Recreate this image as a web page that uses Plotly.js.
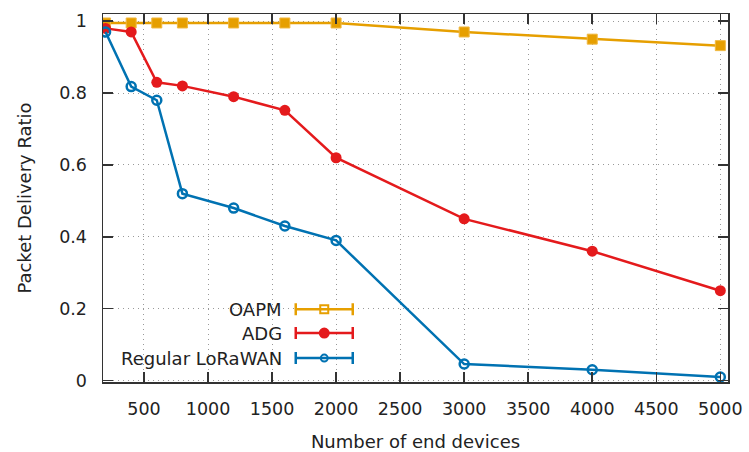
<!DOCTYPE html>
<html>
<head>
<meta charset="utf-8">
<script src="https://cdn.plot.ly/plotly-3.0.1.min.js"></script>
<style>html,body{margin:0;padding:0;background:#fff;}#chart{width:749px;height:452px;}</style>
</head>
<body>
<div id="chart"></div>
<script>
const devices = [200, 400, 600, 800, 1200, 1600, 2000, 3000, 4000, 5000];
const oapm = [0.995, 0.995, 0.995, 0.995, 0.995, 0.995, 0.995, 0.97, 0.95, 0.932];
const adg = [0.98, 0.97, 0.83, 0.82, 0.79, 0.752, 0.62, 0.45, 0.36, 0.25];
const regular = [0.97, 0.818, 0.78, 0.52, 0.48, 0.43, 0.39, 0.046, 0.03, 0.01];
const seriesNames = ["OAPM", "ADG", "Regular LoRaWAN"];
const xTicks = [500, 1000, 1500, 2000, 2500, 3000, 3500, 4000, 4500, 5000];
const yTicks = [0, 0.2, 0.4, 0.6, 0.8, 1];

const cOrange = "#E69F00", cRed = "#E41A1C", cBlue = "#0072B2";
const font = "DejaVu Sans, sans-serif";

const traces = [
  {x: devices, y: oapm, mode: "lines+markers", line: {color: cOrange, width: 2.5},
   marker: {symbol: "square", size: 10, color: cOrange, line: {color: "#F0B840", width: 1}}},
  {x: devices, y: adg, mode: "lines+markers", line: {color: cRed, width: 2.5},
   marker: {symbol: "circle", size: 11, color: cRed}},
  {x: devices, y: regular, mode: "lines+markers", line: {color: cBlue, width: 2.5},
   marker: {symbol: "circle-open", size: 9, color: cBlue, line: {width: 2.5}}}
];

// legend samples on hidden overlay axes (0..1)
const legRows = [0.198, 0.133, 0.065];
const legColors = [cOrange, cRed, cBlue];
const legSymbols = ["square-open", "circle", "circle-open"];
const legSizes = [8, 9, 7];
legRows.forEach((yy, i) => {
  traces.push({
    x: [0.354], y: [yy], xaxis: "x2", yaxis: "y2", mode: "markers",
    marker: {symbol: legSymbols[i], size: legSizes[i], color: legColors[i], line: {color: legColors[i], width: 2}},
    error_x: {type: "data", array: [0.0456], symmetric: true, color: legColors[i], thickness: 2.5, width: 6}
  });
});

const annotations = seriesNames.map((n, i) => ({
  text: n, xref: "x2", yref: "y2", x: 0.289, y: legRows[i], xanchor: "right", yanchor: "middle",
  showarrow: false, font: {family: font, size: 18, color: "#222"}
}));

const gridDash = "1px,4px";

const layout = {
  width: 749, height: 452,
  margin: {l: 103, r: 21, t: 14, b: 70},
  paper_bgcolor: "#fff", plot_bgcolor: "#fff",
  showlegend: false, hovermode: false,
  font: {family: font, size: 18, color: "#222"},
  xaxis: {
    range: [180, 5060], tickvals: xTicks, ticks: "inside", ticklen: 10, tickwidth: 1.5, tickcolor: "#333",
    mirror: "allticks", showline: true, linecolor: "#333", linewidth: 1.5,
    showgrid: true, gridcolor: "#999", griddash: gridDash, gridwidth: 1, zeroline: false,
    tickfont: {family: font, size: 17.5, color: "#222"}, ticklabelstandoff: 10,
    title: {text: "Number of end devices", font: {family: font, size: 18, color: "#222"}, standoff: 18}
  },
  yaxis: {
    range: [-0.004, 1.02], tickvals: yTicks, ticktext: ["0", "0.2", "0.4", "0.6", "0.8", "1"],
    ticks: "inside", ticklen: 10, tickwidth: 1.5, tickcolor: "#333",
    mirror: "allticks", showline: true, linecolor: "#333", linewidth: 1.5,
    showgrid: true, gridcolor: "#999", griddash: gridDash, gridwidth: 1, zeroline: false,
    tickfont: {family: font, size: 17.5, color: "#222"}, ticklabelstandoff: 11,
    title: {text: "Packet Delivery Ratio", font: {family: font, size: 18, color: "#222"}, standoff: 23}
  },
  xaxis2: {overlaying: "x", anchor: "y2", range: [0, 1], visible: false, fixedrange: true},
  yaxis2: {overlaying: "y", anchor: "x2", range: [0, 1], visible: false, fixedrange: true},
  shapes: [{type: "rect", xref: "paper", yref: "paper", x0: 0.018, x1: 0.414, y0: 0.012, y1: 0.236,
            fillcolor: "#fff", line: {width: 0}, layer: "between"}],
  annotations: annotations
};

Plotly.newPlot("chart", traces, layout, {staticPlot: true, displayModeBar: false});
</script>
</body>
</html>
